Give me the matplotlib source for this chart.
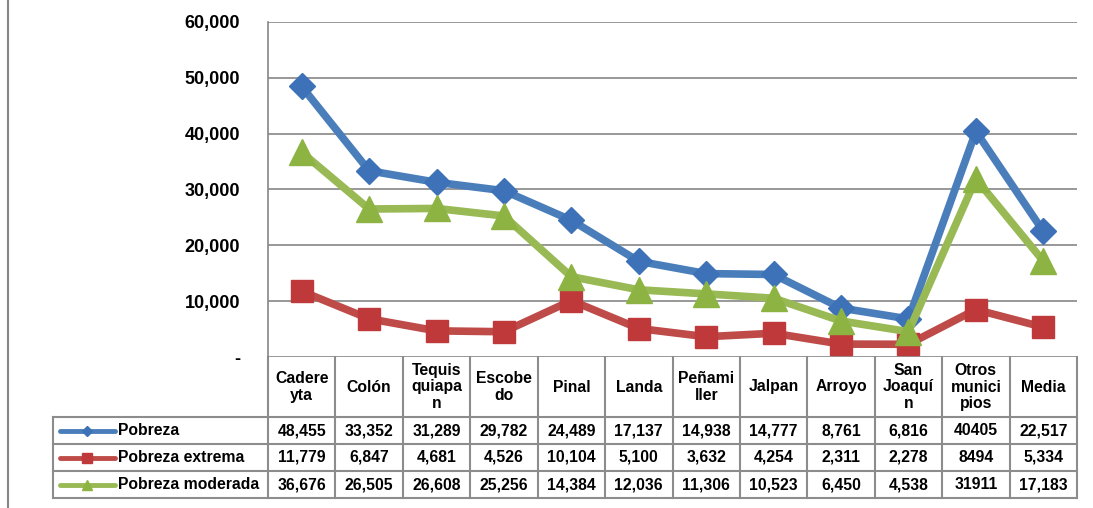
import matplotlib.pyplot as plt
from matplotlib.lines import Line2D
from matplotlib.ticker import FuncFormatter

plt.rcParams['font.family'] = ['Liberation Sans', 'DejaVu Sans']
plt.rcParams['font.weight'] = 'bold'

# Data
municipios = ['Cadere\nyta', 'Colón', 'Tequis\nquiapa\nn', 'Escobe\ndo', 'Pinal',
              'Landa', 'Peñami\nller', 'Jalpan', 'Arroyo', 'San\nJoaquí\nn',
              'Otros\nmunici\npios', 'Media']
pobreza = [48455, 33352, 31289, 29782, 24489, 17137, 14938, 14777, 8761, 6816, 40405, 22517]
pobreza_extrema = [11779, 6847, 4681, 4526, 10104, 5100, 3632, 4254, 2311, 2278, 8494, 5334]
pobreza_moderada = [36676, 26505, 26608, 25256, 14384, 12036, 11306, 10523, 6450, 4538, 31911, 17183]
# how the numbers are written in the table
txt_pobreza = ['48,455', '33,352', '31,289', '29,782', '24,489', '17,137', '14,938',
               '14,777', '8,761', '6,816', '40405', '22,517']
txt_extrema = ['11,779', '6,847', '4,681', '4,526', '10,104', '5,100', '3,632',
               '4,254', '2,311', '2,278', '8494', '5,334']
txt_moderada = ['36,676', '26,505', '26,608', '25,256', '14,384', '12,036', '11,306',
                '10,523', '6,450', '4,538', '31911', '17,183']

series = [
    ('Pobreza', pobreza, txt_pobreza, '#4a7ebb', '#3d72b8', 'D', 13, 5),
    ('Pobreza extrema', pobreza_extrema, txt_extrema, '#be4b48', '#c0393a', 's', 16, 7),
    ('Pobreza moderada', pobreza_moderada, txt_moderada, '#98b954', '#8db443', '^', 19, 7),
]

W, H = 1093, 508
fig = plt.figure(figsize=(W / 100, H / 100), dpi=100)
ax = fig.add_axes([268 / W, (H - 357) / H, (1077 - 268) / W, (357 - 22) / H])

x = list(range(len(municipios)))
for name, vals, _, col, mcol, mk, ms, lms in series:
    ax.plot(x, vals, color=col, lw=5.5, marker=mk, ms=ms, mfc=mcol, mec=mcol,
            solid_capstyle='round', zorder=3, clip_on=False)

ax.set_xlim(-0.5, len(municipios) - 0.5)
ax.set_ylim(0, 60000)
ax.set_yticks(range(0, 60001, 10000))
ax.yaxis.set_major_formatter(FuncFormatter(lambda v, p: '-' if v == 0 else f'{v:,.0f}'))
ax.tick_params(axis='y', length=0, pad=20, labelsize=13)
ax.set_xticks([])
ax.grid(axis='y', color='#868686', lw=1.2)
ax.set_axisbelow(True)
for s in ['top', 'right', 'bottom']:
    ax.spines[s].set_visible(False)
ax.spines['left'].set_color('#868686')
ax.spines['left'].set_linewidth(1.2)

# data table under the chart
tr = ax.get_xaxis_transform()
px = 335.0
unit = 809 / 12
y_head = -60 / px
rows_y = [y_head, -87 / px, -114 / px, -141 / px]
x_left = -0.5 - (268 - 53) / unit
lc = '#8c8c8c'

def seg(xs, ys):
    ax.add_line(Line2D(xs, ys, transform=tr, color=lc, lw=1.5, clip_on=False))

for k in range(len(municipios) + 1):
    seg([k - 0.5, k - 0.5], [0, rows_y[-1]])
for yy in rows_y:
    seg([x_left, len(municipios) - 0.5], [yy, yy])
seg([x_left, x_left], [rows_y[0], rows_y[-1]])

for i, m in enumerate(municipios):
    ax.text(i, y_head / 2, m, transform=tr, ha='center', va='center',
            fontsize=11.3, linespacing=1.1)

for r, (name, vals, txt, col, mcol, mk, ms, lms) in enumerate(series):
    yc = (rows_y[r] + rows_y[r + 1]) / 2
    for i, t in enumerate(txt):
        ax.text(i, yc, t, transform=tr, ha='center', va='center', fontsize=11.3)
    x0 = -0.5 - (268 - 60) / unit
    x1 = -0.5 - (268 - 115) / unit
    xm = -0.5 - (268 - 87) / unit
    ax.add_line(Line2D([x0, x1], [yc, yc], transform=tr, color=col, lw=3.5,
                       solid_capstyle='round', clip_on=False))
    ax.add_line(Line2D([xm], [yc], transform=tr, marker=mk, ms=lms,
                       mfc=mcol, mec=mcol, clip_on=False))
    ax.text(-0.5 - (268 - 118) / unit, yc, name, transform=tr, ha='left',
            va='center', fontsize=11.3)

# outer frame line on the left
fig.add_artist(Line2D([8 / W, 8 / W], [0, 1], color='#868686', lw=1.5))

fig.savefig('out.png', dpi=100)
